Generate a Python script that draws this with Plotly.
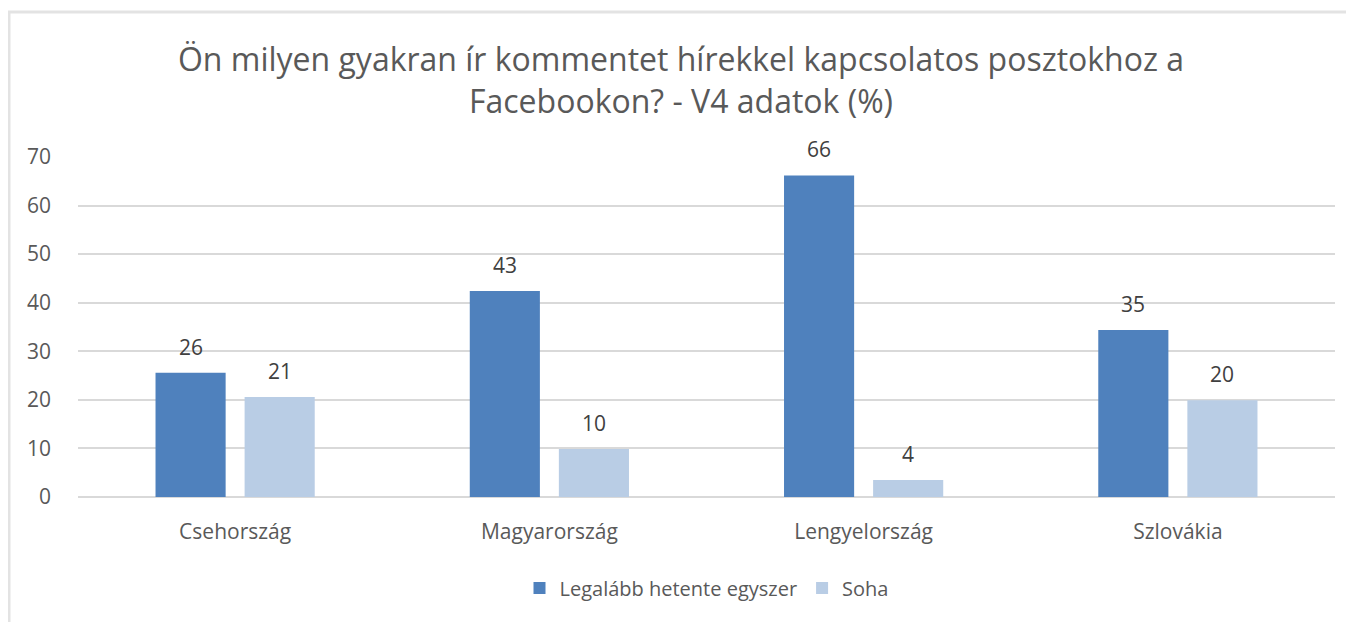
import plotly.graph_objects as go

categories = ["Csehország", "Magyarország", "Lengyelország", "Szlovákia"]
weekly = [25.6, 42.4, 66.2, 34.4]
weekly_labels = ["26", "43", "66", "35"]
never = [20.6, 9.9, 3.5, 19.9]
never_labels = ["21", "10", "4", "20"]
series_names = ["Legalább hetente egyszer", "Soha"]
colors = ["#4F81BD", "#B9CDE5"]
y_ticks = [0, 10, 20, 30, 40, 50, 60, 70]

# page has an 8px body margin; figure is sized/offset to compensate
OFF = 8
W, H = 1354 - OFF, 622 - OFF
L, R, T, B = 78 - OFF, 19, 157 - OFF, 125
pw, ph = W - L - R, H - T - B
BARGAP, GROUPGAP = 0.433, 0.213

def px_x(p):
    return (p - OFF - L) / pw

def px_y(p):
    return (H - B - (p - OFF)) / ph

FONT = "Open Sans"
fig = go.Figure()
for name, vals, col in zip(series_names, [weekly, never], colors):
    fig.add_trace(go.Bar(x=categories, y=vals, name=name, marker_color=col,
                         marker_line_width=0))

# data labels placed as annotations above each bar
slot = pw / len(categories) * (1 - BARGAP) / 2
for si, (vals, labs) in enumerate([(weekly, weekly_labels), (never, never_labels)]):
    xs = (si - 0.5) * slot
    for c, v, t in zip(categories, vals, labs):
        fig.add_annotation(x=c, y=v, text=t, showarrow=False, xshift=xs, yshift=26,
                           yanchor="middle", xanchor="center",
                           font=dict(size=21, color="#404040", family=FONT))

fig.update_layout(
    width=W, height=H,
    margin=dict(l=L, r=R, t=T, b=B),
    paper_bgcolor="white", plot_bgcolor="white",
    barmode="group", bargap=BARGAP, bargroupgap=GROUPGAP,
    title=dict(
        text="Ön milyen gyakran ír kommentet hírekkel kapcsolatos posztokhoz a<br>Facebookon? - V4 adatok (%)",
        x=0.5, xanchor="center", y=1 - (71 - OFF) / H, yanchor="middle",
        font=dict(family=FONT, size=32, color="#595959"),
    ),
    font=dict(family=FONT, color="#595959"),
    yaxis=dict(
        range=[0, 70], tickvals=y_ticks, showgrid=True, gridcolor="#D9D9D9", gridwidth=2,
        zeroline=True, zerolinecolor="#D9D9D9", zerolinewidth=2,
        tickfont=dict(size=21, color="#595959", family=FONT), ticks="", ticklabelstandoff=26,
    ),
    xaxis=dict(
        tickfont=dict(size=21, color="#595959", family=FONT), showline=False, ticks="",
        ticklabelstandoff=20,
    ),
    legend=dict(
        orientation="h", x=0.5, xanchor="center", y=px_y(588), yanchor="middle",
        font=dict(size=20, color="#595959", family=FONT), traceorder="normal",
        itemwidth=30,
    ),
)

fig.add_shape(type="line", xref="paper", yref="paper",
              x0=px_x(8), x1=px_x(1354 + 10), y0=px_y(12), y1=px_y(12),
              line=dict(color="#E3E3E3", width=3), layer="below")
fig.add_shape(type="line", xref="paper", yref="paper",
              x0=px_x(9), x1=px_x(9), y0=px_y(12), y1=px_y(622 + 10),
              line=dict(color="#E3E3E3", width=3), layer="below")

fig.write_html("out.html")
